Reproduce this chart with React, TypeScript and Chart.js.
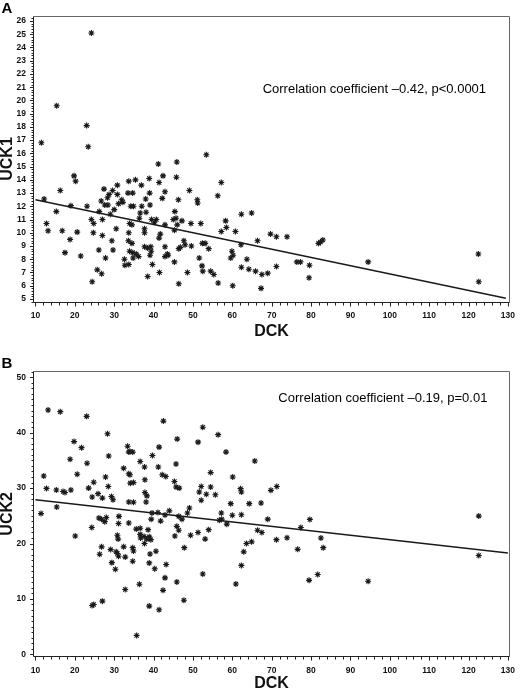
import React, { useEffect, useRef } from "react";
import { Chart, registerables } from "chart.js";

Chart.register(...registerables);

// ---------- Panel A data ----------
const dckA = [
  23.0, 23.4, 53.4, 41.2, 45.9, 33.7, 35.4, 38.9, 41.4, 42.4, 45.8, 57.2, 56.3, 49.1, 27.4, 30.8, 36.9, 29.6, 28.7, 28.3,
  26.7, 27.6, 28.4, 23.1, 30.8, 31.9, 32.2, 31.1, 33.5, 34.7, 34.2, 34.9, 39.0, 42.9, 38.0, 42.2, 46.3, 37.0, 39.1, 51.1,
  51.2, 30.0, 29.0, 26.2, 36.6, 38.1, 36.4, 45.4, 45.7, 24.2, 24.8, 27.0, 33.9, 34.5, 39.5, 40.7, 40.2, 42.9, 45.0, 47.2,
  46.0, 49.5, 52.0, 58.3, 58.5, 62.3, 64.9, 30.5, 33.7, 37.7, 37.7, 45.3, 57.2, 60.8, 69.7, 71.2, 21.5, 24.7, 27.0, 29.4,
  33.6, 34.5, 41.7, 41.4, 47.7, 48.0, 49.6, 52.4, 53.1, 54.0, 62.2, 66.4, 26.1, 29.7, 27.8, 33.9, 34.7, 35.6, 36.2, 34.8,
  32.6, 37.7, 38.5, 39.3, 39.4, 39.1, 42.9, 43.5, 43.7, 42.9, 46.4, 46.8, 51.6, 59.9, 60.2, 59.6, 63.7, 32.7, 33.7, 39.7,
  45.3, 52.3, 62.3, 52.5, 54.5, 55.3, 64.2, 65.9, 67.5, 69.0, 71.2, 25.7, 26.8, 41.5, 38.5, 48.6, 24.4, 46.4, 56.4, 60.1,
  67.3, 24.2, 15.4, 11.5, 19.8, 20.2, 16.3, 12.2, 15.3, 19.0, 12.8, 13.2, 16.8, 20.6, 18.8, 17.5, 73.9, 81.9, 82.4, 83.0,
  122.5, 76.4, 77.3, 79.6, 94.5, 79.5, 122.6,
];
const uck1 = [
  18.1, 16.5, 15.9, 15.2, 15.35, 13.9, 14.0, 14.1, 13.8, 14.3, 14.2, 13.8, 12.8, 13.2, 13.3, 13.6, 13.6, 13.2, 12.9, 12.65,
  12.4, 12.1, 12.1, 12.0, 12.9, 12.5, 12.3, 12.2, 13.0, 13.0, 12.0, 12.0, 13.0, 13.1, 12.55, 12.6, 12.5, 12.0, 12.1, 12.5,
  12.25, 11.75, 11.4, 11.6, 11.5, 11.55, 11.1, 11.6, 11.1, 11.0, 10.7, 11.0, 10.7, 10.6, 11.0, 11.0, 10.8, 10.6, 11.0, 10.9,
  10.6, 10.7, 10.7, 10.9, 10.4, 11.4, 11.5, 10.3, 10.0, 10.3, 10.0, 10.2, 10.1, 10.1, 9.9, 9.7, 8.25, 10.0, 9.8, 9.4,
  9.4, 9.2, 9.9, 9.6, 9.4, 9.1, 9.0, 9.2, 9.2, 8.8, 9.1, 9.4, 8.7, 8.7, 8.1, 8.6, 8.5, 8.4, 8.2, 8.1,
  8.0, 8.95, 8.85, 8.95, 8.6, 8.3, 8.95, 8.4, 8.3, 8.2, 8.8, 8.9, 8.1, 8.6, 8.3, 8.1, 8.0, 7.55, 7.6, 7.6,
  7.8, 7.5, 7.4, 7.1, 7.1, 6.85, 7.25, 7.1, 6.85, 6.95, 7.45, 7.2, 6.9, 7.0, 6.7, 7.0, 6.3, 6.15, 6.2, 6.0,
  5.8, 25.1, 19.6, 16.8, 14.3, 13.9, 13.2, 12.55, 11.6, 12.05, 10.7, 10.15, 10.15, 10.05, 9.5, 8.5, 9.7, 9.2, 9.3, 9.45,
  8.4, 7.8, 7.8, 7.55, 7.8, 6.6, 6.3,
];
const fitAX = [10, 129.5];
const fitAY = [12.5, 5.05];

// ---------- Panel B data ----------
const dckB = [
  33.4, 33.7, 34.7, 34.0, 41.4, 39.7, 28.6, 23.1, 36.6, 37.7, 41.2, 45.7, 32.4, 33.7, 34.0, 42.2, 43.1, 27.8, 24.8, 34.1,
  34.9, 37.8, 28.5, 23.5, 45.3, 45.7, 46.5, 54.5, 60.1, 58.4, 65.7, 52.1, 54.5, 51.6, 53.4, 55.7, 52.1, 62.1, 62.3, 69.8,
  71.3, 59.6, 64.3, 67.3, 24.4, 25.9, 27.0, 29.3, 29.7, 33.7, 34.9, 38.1, 38.3, 37.8, 21.7, 51.3, 49.1, 48.6, 39.6, 41.1,
  42.9, 44.0, 46.4, 47.2, 39.4, 41.8, 57.2, 60.0, 62.3, 56.7, 57.3, 58.6, 69.0, 66.4, 67.5, 71.2, 26.1, 26.8, 28.0, 27.6,
  31.2, 31.1, 33.7, 24.3, 35.6, 36.6, 38.6, 36.6, 37.6, 38.9, 38.3, 39.3, 36.7, 30.8, 31.0, 37.7, 45.9, 46.4, 45.4, 49.4,
  51.3, 54.0, 53.1, 47.8, 62.9, 63.6, 64.9, 62.3, 26.8, 26.3, 29.1, 30.5, 31.1, 32.4, 34.7, 34.9, 32.8, 30.8, 29.4, 30.3,
  34.7, 39.1, 40.6, 38.9, 40.3, 43.2, 42.9, 52.5, 45.9, 36.4, 32.8, 42.4, 60.9, 47.7, 27.0, 24.4, 24.8, 38.9, 41.4, 35.7,
  13.2, 16.3, 23.0, 19.8, 18.8, 20.6, 12.1, 12.8, 15.3, 17.0, 17.5, 19.0, 11.4, 15.4, 20.1, 42.5, 52.5, 28.3, 46.0, 56.4,
  79.7, 122.6, 77.4, 73.9, 82.5, 76.6, 83.1, 122.6, 81.7, 79.5, 94.5,
];
const uck2 = [
  37.55, 36.5, 36.5, 36.6, 37.4, 35.9, 35.8, 34.5, 34.8, 33.8, 33.8, 34.35, 33.6, 32.6, 32.4, 32.4, 32.1, 32.0, 31.05, 30.9,
  31.0, 31.5, 30.3, 30.0, 31.2, 30.2, 30.0, 32.8, 32.0, 36.5, 34.9, 30.3, 30.2, 29.3, 28.9, 28.8, 27.8, 29.9, 29.3, 29.6,
  30.3, 27.2, 27.2, 27.3, 28.4, 29.0, 28.2, 28.5, 27.9, 27.5, 27.45, 27.5, 28.6, 29.2, 37.3, 38.3, 26.4, 25.5, 25.5, 25.6,
  25.15, 25.9, 24.9, 24.4, 24.4, 24.05, 25.5, 25.1, 25.2, 24.2, 24.4, 23.5, 24.4, 22.4, 22.0, 20.7, 24.6, 24.4, 24.7, 23.95,
  24.9, 23.6, 23.7, 22.9, 22.6, 22.75, 22.5, 21.65, 21.25, 21.2, 20.8, 20.7, 21.0, 21.5, 20.8, 20.0, 23.1, 22.4, 21.35, 21.5,
  22.0, 22.5, 20.8, 19.25, 18.5, 20.0, 20.3, 16.05, 19.4, 18.05, 18.9, 18.5, 17.7, 19.4, 19.25, 18.65, 17.55, 18.2, 16.55, 15.35,
  16.8, 18.1, 18.6, 16.5, 15.45, 16.2, 13.8, 14.5, 13.05, 12.65, 11.7, 11.55, 12.7, 9.75, 9.6, 8.8, 9.0, 8.7, 8.05, 3.4,
  44.1, 43.8, 42.95, 38.4, 35.2, 32.5, 32.2, 29.95, 29.65, 29.4, 29.2, 29.65, 25.4, 26.6, 21.35, 42.1, 41.0, 39.8, 38.85, 39.65,
  24.35, 24.95, 22.9, 21.05, 21.0, 18.95, 19.25, 17.85, 14.4, 13.35, 13.2,
];
const fitBX = [10, 130];
const fitBY = [27.9, 18.3];

// ---------- Tick labels ----------
const xTickLabels = [10, 20, 30, 40, 50, 60, 70, 80, 90, 100, 110, 120, 130];
const yTickLabelsA = [5, 6, 7, 8, 9, 10, 11, 12, 13, 14, 15, 16, 17, 18, 19, 20, 21, 22, 23, 24, 25, 26];
const yTickLabelsB = [0, 10, 20, 30, 40, 50];

const annotA = { x: 67.7, y: 20.8, text: "Correlation coefficient \u20130.42, p<0.0001" };
const annotB = { x: 71.7, y: 46.1, text: "Correlation coefficient \u20130.19, p=0.01" };

const FONT = '"Liberation Sans", Arial, Helvetica, sans-serif';

const isIn = (list: number[], v: number) => list.some((t) => Math.abs(t - v) < 1e-6);

const framePlugin = {
  id: "frame",
  afterDraw(chart: any) {
    const o = chart.options.plugins.frame;
    const { ctx, chartArea } = chart;
    const xs = chart.scales.x;
    const ys = chart.scales.y;
    const L = Math.floor(chartArea.left) + 0.5;
    const R = Math.floor(chartArea.right) + 0.5;
    const T = Math.floor(chartArea.top) + 0.5;
    const B = Math.floor(chartArea.bottom) + 0.5;
    ctx.save();
    ctx.strokeStyle = "#666";
    ctx.lineWidth = 1;
    ctx.beginPath();
    ctx.moveTo(L, T);
    ctx.lineTo(R, T);
    ctx.lineTo(R, B);
    ctx.stroke();
    ctx.strokeStyle = "#222";
    ctx.beginPath();
    ctx.moveTo(L, T);
    ctx.lineTo(L, B);
    ctx.lineTo(R, B);
    ctx.stroke();
    ctx.beginPath();
    xs.ticks.forEach((t: any) => {
      const p = Math.round(xs.getPixelForValue(t.value)) + 0.5;
      const len = isIn(o.xLabels, t.value) ? 4 : 3;
      ctx.moveTo(p, B);
      ctx.lineTo(p, B + len);
    });
    ys.ticks.forEach((t: any) => {
      const p = Math.round(ys.getPixelForValue(t.value)) + 0.5;
      const len = isIn(o.yLabels, t.value) ? 3.5 : 2;
      ctx.moveTo(L, p);
      ctx.lineTo(L - len, p);
    });
    ctx.stroke();
    ctx.fillStyle = "#000";
    ctx.font = `13px ${FONT}`;
    ctx.textAlign = "left";
    ctx.textBaseline = "middle";
    ctx.fillText(o.annot.text, xs.getPixelForValue(o.annot.x), ys.getPixelForValue(o.annot.y));
    ctx.font = `bold 15px ${FONT}`;
    ctx.textBaseline = "alphabetic";
    ctx.fillText(o.letter, 1.5, o.letterBaseline);
    ctx.restore();
  },
};

type PanelProps = {
  xs: number[];
  ys: number[];
  fitX: number[];
  fitY: number[];
  yMin: number;
  yMax: number;
  yStep: number;
  yLabels: number[];
  yTitle: string;
  height: number;
  padTop: number;
  xAxisH: number;
  annot: { x: number; y: number; text: string };
  letter: string;
  letterBaseline: number;
};

function Panel(p: PanelProps) {
  const ref = useRef<HTMLCanvasElement>(null);
  useEffect(() => {
    if (!ref.current) return;
    const tickFont = { family: FONT, size: 8.5, weight: "bold" as const };
    const titleFont = { family: FONT, size: 16, weight: "bold" as const, lineHeight: 1 };
    const chart = new Chart(ref.current, {
      type: "scatter",
      data: {
        datasets: [
          {
            data: p.xs.map((x, i) => ({ x, y: p.ys[i] })),
            pointStyle: "star",
            pointRadius: 3,
            pointHoverRadius: 3,
            borderColor: "#1a1a1a",
            backgroundColor: "#1a1a1a",
            borderWidth: 1.1,
          },
          {
            data: p.fitX.map((x, i) => ({ x, y: p.fitY[i] })),
            showLine: true,
            pointRadius: 0,
            borderColor: "#1a1a1a",
            borderWidth: 1.4,
            fill: false,
            tension: 0,
          },
        ],
      },
      options: {
        responsive: false,
        animation: false,
        events: [],
        layout: { padding: { top: p.padTop, right: 5, left: 0, bottom: 0 } },
        plugins: {
          legend: { display: false },
          tooltip: { enabled: false },
          // @ts-ignore
          frame: { xLabels: xTickLabels, yLabels: p.yLabels, annot: p.annot, letter: p.letter, letterBaseline: p.letterBaseline },
        },
        scales: {
          x: {
            type: "linear",
            min: 9.5,
            max: 130.4,
            afterFit: (s: any) => {
              s.height = p.xAxisH;
            },
            grid: { display: false, drawTicks: true, tickLength: 4 },
            border: { display: false },
            ticks: {
              stepSize: 2,
              autoSkip: false,
              includeBounds: false,
              maxRotation: 0,
              padding: 5,
              color: "#111",
              font: tickFont,
              callback: (v: any) => (isIn(xTickLabels, Number(v)) ? String(Math.round(Number(v))) : ""),
            },
            title: { display: true, text: "DCK", color: "#111", font: titleFont, padding: { top: 0, bottom: 0.5 } },
          },
          y: {
            type: "linear",
            min: p.yMin,
            max: p.yMax,
            afterFit: (s: any) => {
              s.width = 33.5;
            },
            grid: { display: false, drawTicks: true, tickLength: 3 },
            border: { display: false },
            ticks: {
              stepSize: p.yStep,
              autoSkip: false,
              includeBounds: false,
              padding: 4.5,
              color: "#111",
              font: tickFont,
              callback: (v: any) => (isIn(p.yLabels, Number(v)) ? String(Math.round(Number(v))) : ""),
            },
            title: { display: true, text: p.yTitle, color: "#111", font: titleFont, padding: { top: 0, bottom: 0 } },
          },
        },
      },
      plugins: [framePlugin],
    } as any);
    return () => chart.destroy();
  }, []);
  return <canvas ref={ref} width={520} height={p.height} style={{ display: "block", width: 520, height: p.height }} />;
}

export default function App() {
  return (
    <div style={{ position: "absolute", left: 0, top: 0, width: 520, height: 692, background: "#fff" }}>
      <Panel
        xs={dckA}
        ys={uck1}
        fitX={fitAX}
        fitY={fitAY}
        yMin={4.77}
        yMax={26.38}
        yStep={0.2}
        yLabels={yTickLabelsA}
        yTitle="UCK1"
        height={340}
        padTop={16}
        xAxisH={38}
        annot={annotA}
        letter="A"
        letterBaseline={13}
      />
      <Panel
        xs={dckB}
        ys={uck2}
        fitX={fitBX}
        fitY={fitBY}
        yMin={-0.43}
        yMax={51.14}
        yStep={1}
        yLabels={yTickLabelsB}
        yTitle="UCK2"
        height={352}
        padTop={31}
        xAxisH={35.3}
        annot={annotB}
        letter="B"
        letterBaseline={27.5}
      />
    </div>
  );
}
